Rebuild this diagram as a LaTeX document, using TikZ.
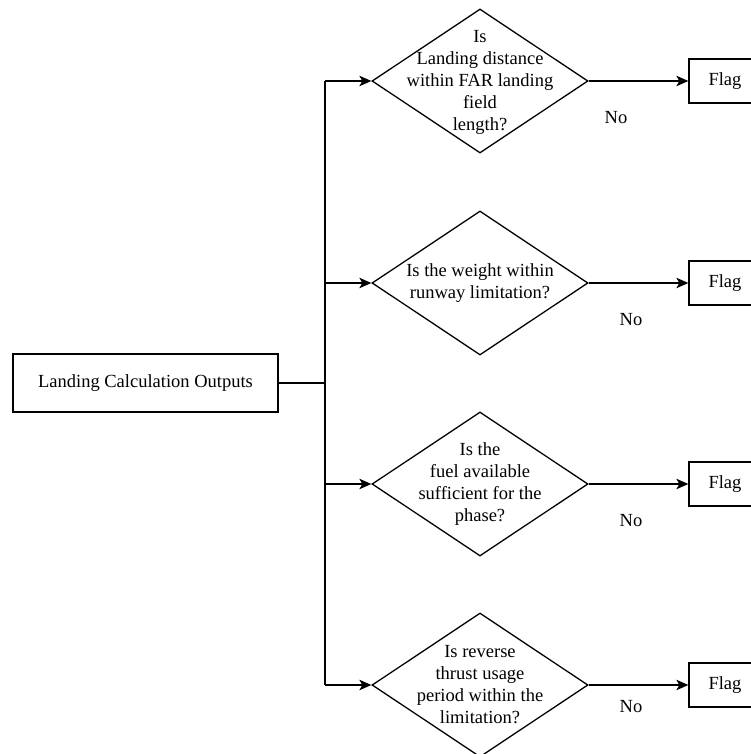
\documentclass[tikz,border=0pt]{standalone}
\usepackage{fontspec}
\setmainfont{Liberation Serif}
\usetikzlibrary{shapes.geometric,arrows.meta}
\begin{document}
\begin{tikzpicture}[x=1pt,y=-1pt,
  every node/.style={font=\fontsize{18.5}{22}\selectfont},
  box/.style={draw,line width=1.3pt,rectangle,inner sep=0pt},
  decision/.style={draw,line width=1.3pt,diamond,inner sep=0pt,
    minimum width=216pt,minimum height=144pt},
  dtext/.style={align=center,inner sep=0pt},
  flagbox/.style={box,minimum width=72pt,minimum height=44pt},
  link/.style={line width=1.3pt},
  arr/.style={link,-{Stealth[length=12pt,width=10.5pt,inset=3pt]}},
  nolabel/.style={inner sep=0pt}]
\useasboundingbox (0,0) rectangle (751,754);
\clip (0,0) rectangle (751,754);

% source box
\node[box,minimum width=265pt,minimum height=58pt] (src) at (145.5,383) {Landing Calculation Outputs};

% decisions
\node[decision] (d1) at (480,81) {};
\node[dtext] (q1) at (480,82) {Is\\Landing distance\\within FAR landing\\field\\length?};
\node[decision] (d2) at (480,283) {};
\node[dtext] (q2) at (480,283) {Is the weight within\\runway limitation?};
\node[decision] (d3) at (480,484) {};
\node[dtext] (q3) at (480,484) {Is the\\fuel available\\sufficient for the\\phase?};
\node[decision] (d4) at (480,685) {};
\node[dtext] (q4) at (480,685) {Is reverse\\thrust usage\\period within the\\limitation?};

% flags
\node[flagbox] (f1) at (725,81) {Flag};
\node[flagbox] (f2) at (725,283) {Flag};
\node[flagbox] (f3) at (725,484) {Flag};
\node[flagbox] (f4) at (725,685) {Flag};

% "No" labels
\node[nolabel] (n1) at (616,118) {No};
\node[nolabel] (n2) at (631,320) {No};
\node[nolabel] (n3) at (631,521) {No};
\node[nolabel] (n4) at (631,707) {No};

% trunk
\coordinate (j) at (325,383);
\coordinate (b1) at (325,81);
\coordinate (b2) at (325,283);
\coordinate (b3) at (325,484);
\coordinate (b4) at (325,685);
\draw[link] (src.east) -- (j);
\draw[link] (b1) -- (b4);

\draw[arr] (b1) -- (d1.west);
\draw[arr] (b2) -- (d2.west);
\draw[arr] (b3) -- (d3.west);
\draw[arr] (b4) -- (d4.west);

\draw[arr] (d1.east) -- (f1.west);
\draw[arr] (d2.east) -- (f2.west);
\draw[arr] (d3.east) -- (f3.west);
\draw[arr] (d4.east) -- (f4.west);
\end{tikzpicture}
\end{document}
